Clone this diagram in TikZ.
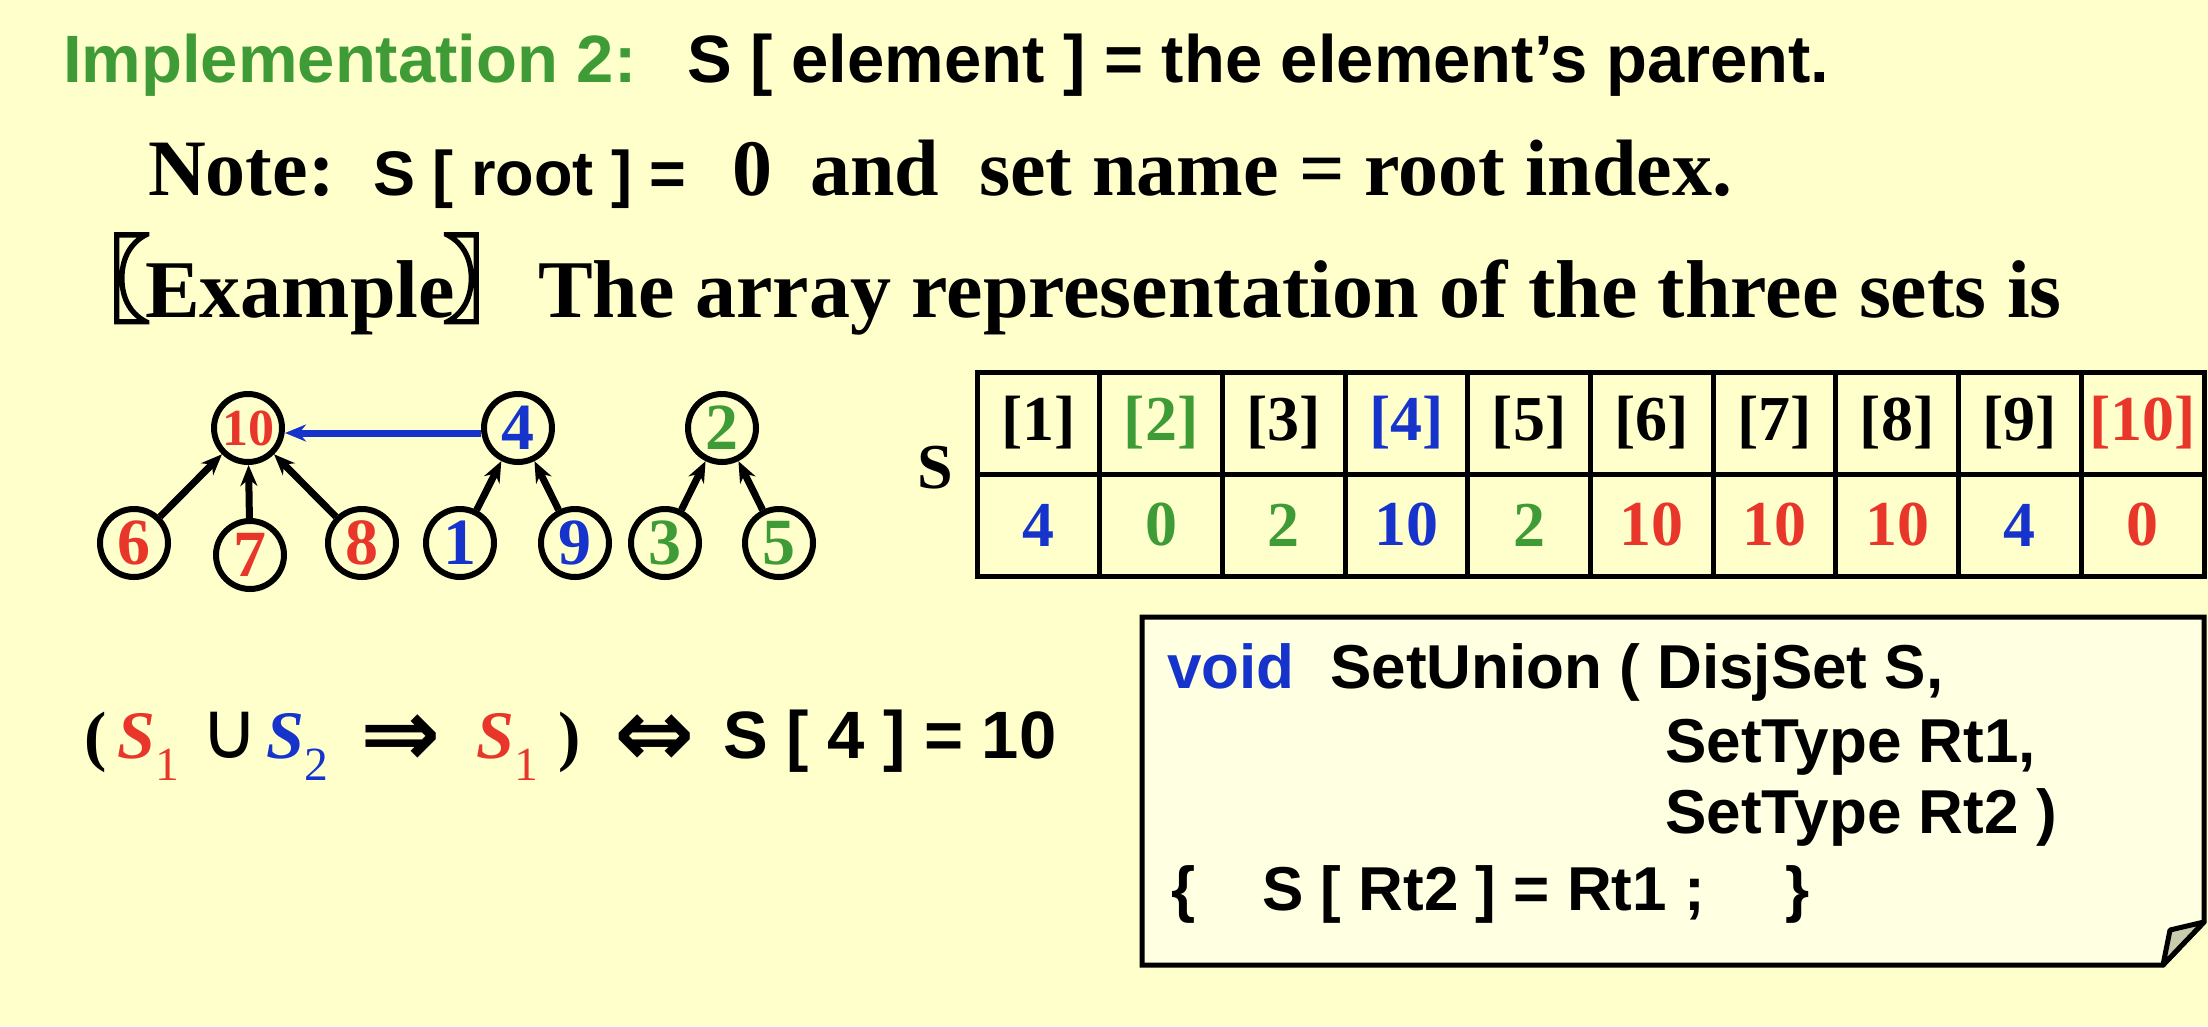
\documentclass[tikz,border=0pt]{standalone}
\usepackage{fontspec}
\setmainfont{Liberation Serif}
\setsansfont{Liberation Sans}
\newfontfamily\symfont{DejaVu Sans}
\newfontfamily\cjkfont[FakeBold=3]{Noto Sans CJK SC}
\usetikzlibrary{arrows.meta, positioning}

\definecolor{slidebg}{HTML}{FFFFCC}
\definecolor{notefill}{HTML}{FFFFE2}
\definecolor{foldgrey}{HTML}{CACAAE}
\definecolor{setred}{HTML}{E8362A}
\definecolor{setblue}{HTML}{1634CC}
\definecolor{setgreen}{HTML}{3F9B36}

\newcommand{\sansb}[1]{\fontsize{#1}{#1}\selectfont\sffamily\bfseries}
\newcommand{\serifb}[1]{\fontsize{#1}{#1}\selectfont\rmfamily\bfseries}
\newcommand{\serifbi}[1]{\fontsize{#1}{#1}\selectfont\rmfamily\bfseries\itshape}
\newcommand{\symsz}[1]{\fontsize{#1}{#1}\selectfont\symfont}
\newcommand{\cjkb}[1]{\fontsize{#1}{#1}\selectfont\cjkfont\bfseries}

\begin{document}
\begin{tikzpicture}[
        x=1pt, y=-1pt,
        >={Stealth[length=21pt,width=17pt]},
        every node/.style={inner sep=0pt},
        node distance=122.7pt,
        vert/.style={circle, draw, line width=6pt, minimum size=68pt, font=\serifb{66}},
        cell/.style={draw, line width=5pt, minimum width=122.7pt, minimum height=102pt, outer sep=0pt, font=\serifb{64}},
        txt/.style={anchor=base west}]

    \fill [slidebg] (0,0) rectangle (2208,1026);
    \useasboundingbox (0,0) rectangle (2208,1026);

    % heading lines
    \node [txt, font=\sansb{67}, text=setgreen] (impl)   at (63,82)  {Implementation 2:};
    \node [txt, font=\sansb{67}]               (parent) at (687,82) {S [ element ] = the element’s parent.};

    \node [txt, font=\serifb{80}] (note)    at (148,195) {Note:};
    \node [txt, font=\sansb{63}]  (sroot)   at (373,195) {S [ root ] =};
    \node [txt, font=\serifb{80}] (zero)    at (732,195) {0};
    \node [txt, font=\serifb{80}] (and)     at (810,195) {and};
    \node [txt, font=\serifb{80}] (setname) at (979,195) {set name = root index.};

    \node [txt, font=\serifb{82}] (example) at (56,317)
        {\raisebox{3pt}{\cjkb{94}〖}\kern-5pt Example\kern-12pt\raisebox{3pt}{\cjkb{94}〗}\kern-6pt};
    \node [txt, font=\serifb{82}] (sets) at (538,317) {The array representation of the three sets is};

    % the three trees
    \node [vert, text=setred, font=\serifb{52}] (10) at (248,428) {10};
    \node [vert, text=setblue]  (4) at (518,428) {4};
    \node [vert, text=setgreen] (2) at (722,428) {2};
    \node [vert, text=setred]   (6) at (134,543) {6};
    \node [vert, text=setred]   (7) at (250,555) {7};
    \node [vert, text=setred]   (8) at (362,543) {8};
    \node [vert, text=setblue]  (1) at (460,543) {1};
    \node [vert, text=setblue]  (9) at (575,543) {9};
    \node [vert, text=setgreen] (3) at (665,543) {3};
    \node [vert, text=setgreen] (5) at (779,543) {5};

    \path [->, line width=7pt]
        (6) edge (10)
        (7) edge (10)
        (8) edge (10)
        (1) edge (4)
        (9) edge (4)
        (3) edge (2)
        (5) edge (2);
    \path [->, line width=7pt, setblue]
        ([yshift=-5pt]4.west) edge ([yshift=-5pt]10.east);

    % array S
    \node [font=\serifb{64}] (s) at (935,468) {S};
    \node [cell]                 (h1)  at (1038.35,423) {[1]};
    \node [cell, text=setgreen]  (h2)  [right of=h1] {[2]};
    \node [cell]                 (h3)  [right of=h2] {[3]};
    \node [cell, text=setblue]   (h4)  [right of=h3] {[4]};
    \node [cell]                 (h5)  [right of=h4] {[5]};
    \node [cell]                 (h6)  [right of=h5] {[6]};
    \node [cell]                 (h7)  [right of=h6] {[7]};
    \node [cell]                 (h8)  [right of=h7] {[8]};
    \node [cell]                 (h9)  [right of=h8] {[9]};
    \node [cell, text=setred]    (h10) [right of=h9] {[10]};

    \node [cell, text=setblue]   (v1)  [below of=h1, node distance=102pt] {4};
    \node [cell, text=setgreen]  (v2)  [right of=v1] {0};
    \node [cell, text=setgreen]  (v3)  [right of=v2] {2};
    \node [cell, text=setblue]   (v4)  [right of=v3] {10};
    \node [cell, text=setgreen]  (v5)  [right of=v4] {2};
    \node [cell, text=setred]    (v6)  [right of=v5] {10};
    \node [cell, text=setred]    (v7)  [right of=v6] {10};
    \node [cell, text=setred]    (v8)  [right of=v7] {10};
    \node [cell, text=setblue]   (v9)  [right of=v8] {4};
    \node [cell, text=setred]    (v10) [right of=v9] {0};

    % union formula
    \node [txt, font=\serifb{67}] (lpar) at (84,758) {(};
    \node [txt, font=\serifbi{68}, text=setred]  (s1) at (117,758) {S\textsubscript{\mdseries\upshape 1}};
    \node [txt, font=\symsz{80}] (cup) at (200,758) {∪};
    \node [txt, font=\serifbi{68}, text=setblue] (s2) at (266,758) {S\textsubscript{\mdseries\upshape 2}};
    \node [txt, font=\symsz{96}\bfseries] (imp) at (360,766) {⇒};
    \node [txt, font=\serifbi{68}, text=setred]  (s3) at (476,758) {S\textsubscript{\mdseries\upshape 1}};
    \node [txt, font=\serifb{67}] (rpar) at (558,758) {)};
    \node [txt, font=\symsz{96}\bfseries] (iff) at (614,766) {⇔};
    \node [txt, font=\sansb{67}] (sfour) at (723,758) {S [ 4 ] = 10};

    % code note
    \draw [line width=5pt, fill=notefill] (1142,617) -- (2204,617) -- (2204,922) -- (2163,965) -- (1142,965) -- cycle;
    \draw [line width=5pt, fill=foldgrey, line join=round] (2204,922) -- (2170,930) -- (2163,965) -- cycle;

    \node [txt, font=\sansb{62}, text=setblue] (void) at (1167,688) {void};
    \node [txt, font=\sansb{62}] (setunion) at (1330,688) {SetUnion ( DisjSet S,};
    \node [txt, font=\sansb{62}] (rtone)    at (1665,762) {SetType Rt1,};
    \node [txt, font=\sansb{62}] (rttwo)    at (1665,833) {SetType Rt2 )};
    \node [txt, font=\sansb{62}] (lbrace)   at (1171,910) {\{};
    \node [txt, font=\sansb{62}] (assign)   at (1262,910) {S [ Rt2 ] = Rt1 ;};
    \node [txt, font=\sansb{62}] (rbrace)   at (1785,910) {\}};
\end{tikzpicture}
\end{document}
